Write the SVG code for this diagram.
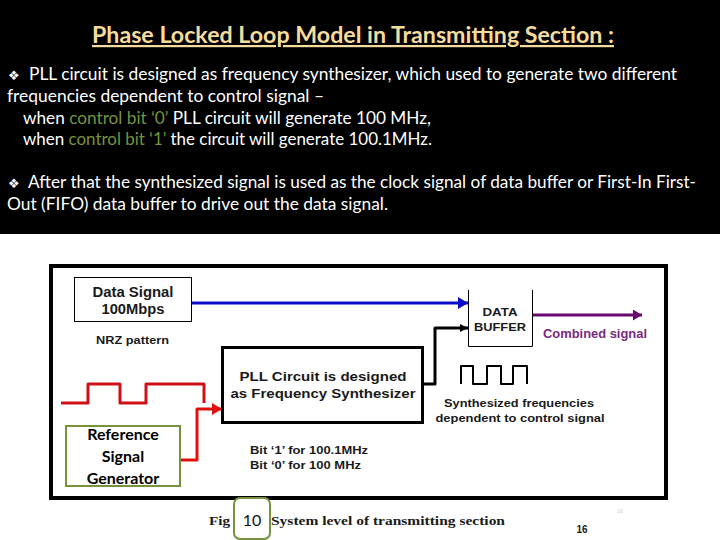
<svg xmlns="http://www.w3.org/2000/svg" width="720" height="540" viewBox="0 0 720 540">
<defs>
<style>
.h{font-family:"Lato","Open Sans",sans-serif;font-size:17.5px;fill:#fff}
.g{fill:#76923c}
.d{font-family:"Liberation Sans",Arial,sans-serif;font-weight:bold;fill:#1a1a1a}
.n{font-family:"Lato","Open Sans",sans-serif;font-size:16px;font-weight:bold;fill:#000;text-anchor:middle}
.c{fill:none;stroke-linejoin:round}
</style>
<marker id="ab" markerUnits="userSpaceOnUse" markerWidth="11" markerHeight="12" refX="10" refY="6" orient="auto"><path d="M0 0L10 6L0 12Z" fill="#0a0ac8"/></marker>
<marker id="ak" markerUnits="userSpaceOnUse" markerWidth="9" markerHeight="8" refX="8" refY="4" orient="auto"><path d="M0 0L8 4L0 8Z" fill="#000"/></marker>
<marker id="ap" markerUnits="userSpaceOnUse" markerWidth="10" markerHeight="11" refX="9" refY="5.500" orient="auto"><path d="M0 0L9 5.500L0 11Z" fill="#6a0a70"/></marker>
<marker id="ar" markerUnits="userSpaceOnUse" markerWidth="11" markerHeight="12" refX="10" refY="6" orient="auto"><path d="M0 0L10 6L0 12Z" fill="#e01010"/></marker>
</defs>
<rect width="720" height="540" fill="#fff"/>
<g id="header">
<rect width="720" height="234" fill="#000"/>
<text x="92" y="43" font-family="Lato,'Open Sans',sans-serif" font-size="22" font-weight="bold" fill="#f6dc9c" text-decoration="underline" textLength="522" lengthAdjust="spacingAndGlyphs">Phase Locked Loop Model in Transmitting Section :</text>
<text class="h" x="8" y="80" font-family="'DejaVu Sans',sans-serif" style="font-family:'DejaVu Sans',sans-serif;font-size:13px">❖</text>
<text class="h" x="29" y="80" textLength="648" lengthAdjust="spacingAndGlyphs">PLL circuit is designed as frequency synthesizer, which used to generate two different</text>
<text class="h" x="7" y="102" textLength="317" lengthAdjust="spacingAndGlyphs">frequencies dependent to control signal –</text>
<text class="h" x="23" y="124" textLength="408" lengthAdjust="spacingAndGlyphs">when <tspan class="g">control bit ‘0’</tspan> PLL circuit will generate 100 MHz,</text>
<text class="h" x="23" y="145" textLength="409" lengthAdjust="spacingAndGlyphs">when <tspan class="g">control bit ‘1’</tspan> the circuit will generate 100.1MHz.</text>
<text class="h" x="8" y="188" style="font-family:'DejaVu Sans',sans-serif;font-size:13px">❖</text>
<text class="h" x="28" y="188" textLength="668" lengthAdjust="spacingAndGlyphs">After that the synthesized signal is used as the clock signal of data buffer or First-In First-</text>
<text class="h" x="7" y="210" textLength="381" lengthAdjust="spacingAndGlyphs">Out (FIFO) data buffer to drive out the data signal.</text>
</g>
<rect id="frame" x="51" y="266" width="615" height="232" fill="#fff" stroke="#000" stroke-width="4"/>
<g id="connectors" class="c">
<path d="M192 303H468" stroke="#0a0ac8" stroke-width="3" marker-end="url(#ab)"/>
<path d="M423 384H435V328H468" stroke="#000" stroke-width="3" marker-end="url(#ak)"/>
<path d="M533 315H642" stroke="#6a0a70" stroke-width="3" marker-end="url(#ap)"/>
<path d="M180 460H197V409H222" stroke="#e01010" stroke-width="3" marker-end="url(#ar)"/>
<path d="M61 403H88V384H120V403H146V384H204V403" stroke="#d01018" stroke-width="3"/>
<path d="M461 384V366H473V384H487V366H501V384H513V366H527V384" stroke="#000" stroke-width="2"/>
</g>
<g id="data-signal">
<rect x="74.500" y="277.500" width="117" height="44" fill="#fff" stroke="#000"/>
<text class="d" x="133" y="297" font-size="14" text-anchor="middle" textLength="81" lengthAdjust="spacingAndGlyphs">Data Signal</text>
<text class="d" x="133" y="314" font-size="14" text-anchor="middle" textLength="63" lengthAdjust="spacingAndGlyphs">100Mbps</text>
</g>
<text class="d" x="96" y="344" font-size="11" textLength="73" lengthAdjust="spacingAndGlyphs">NRZ pattern</text>
<g id="pll">
<rect x="222.500" y="347.500" width="200" height="75" fill="#fff" stroke="#000" stroke-width="3"/>
<text class="d" x="323" y="381" font-size="13" text-anchor="middle" textLength="167" lengthAdjust="spacingAndGlyphs">PLL Circuit is designed</text>
<text class="d" x="323" y="398" font-size="13" text-anchor="middle" textLength="185" lengthAdjust="spacingAndGlyphs">as Frequency Synthesizer</text>
</g>
<g id="data-buffer">
<path d="M468.500 290V346.500H532.500V290" fill="none" stroke="#000"/>
<text class="d" x="500" y="316" font-size="11.500" text-anchor="middle" textLength="35" lengthAdjust="spacingAndGlyphs">DATA</text>
<text class="d" x="500" y="331" font-size="11.500" text-anchor="middle" textLength="52" lengthAdjust="spacingAndGlyphs">BUFFER</text>
</g>
<text x="543" y="338" font-family="'Liberation Sans',Arial,sans-serif" font-weight="bold" font-size="12" fill="#7a2a80" textLength="104" lengthAdjust="spacingAndGlyphs">Combined signal</text>
<text class="d" x="519" y="407" font-size="11.500" text-anchor="middle" textLength="150" lengthAdjust="spacingAndGlyphs">Synthesized frequencies</text>
<text class="d" x="520" y="422" font-size="11.500" text-anchor="middle" textLength="169" lengthAdjust="spacingAndGlyphs">dependent to control signal</text>
<g id="reference-generator">
<rect x="66" y="426" width="114" height="60" fill="#fff" stroke="#76923c" stroke-width="2"/>
<text class="n" x="123" y="440">Reference</text>
<text class="n" x="123" y="462">Signal</text>
<text class="n" x="123" y="484">Generator</text>
</g>
<text class="d" x="250" y="454" font-size="11" textLength="118" lengthAdjust="spacingAndGlyphs">Bit ‘1’ for 100.1MHz</text>
<text class="d" x="250" y="469" font-size="11" textLength="111" lengthAdjust="spacingAndGlyphs">Bit ‘0’ for 100 MHz</text>
<text x="209" y="525" font-family="'Liberation Serif',serif" font-weight="bold" font-size="13" fill="#1a1a1a" textLength="21" lengthAdjust="spacingAndGlyphs">Fig</text>
<text x="271" y="525" font-family="'Liberation Serif',serif" font-weight="bold" font-size="13" fill="#1a1a1a" textLength="234" lengthAdjust="spacingAndGlyphs">System level of transmitting section</text>
<g id="slide-number">
<rect x="234" y="498" width="36" height="41" rx="6" fill="#fff" stroke="#76923c" stroke-width="2"/>
<text x="252" y="526" font-family="Lato,'Open Sans',sans-serif" font-size="16" fill="#111" text-anchor="middle">10</text>
</g>
<text class="d" x="582" y="533" font-size="10" text-anchor="middle" fill="#000">16</text>
<text x="620" y="513" font-family="'Liberation Sans',sans-serif" font-size="5" fill="#c8c8c8" text-anchor="middle">16</text>
</svg>
